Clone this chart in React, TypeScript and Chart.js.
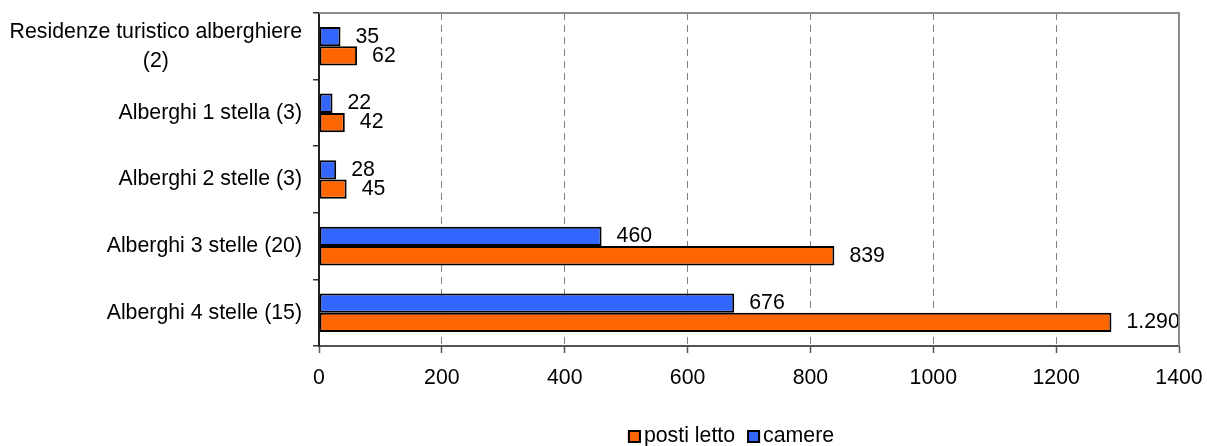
import React, { useEffect, useRef } from "react";
import { Chart, registerables } from "chart.js";

Chart.register(...registerables);

const categories: string[][] = [
  ["Residenze turistico alberghiere", "(2)"],
  ["Alberghi 1 stella (3)"],
  ["Alberghi 2 stelle (3)"],
  ["Alberghi 3 stelle (20)"],
  ["Alberghi 4 stelle (15)"],
];
const camere = [35, 22, 28, 460, 676];
const postiLetto = [62, 42, 45, 839, 1290];
const seriesNames = ["camere", "posti letto"];
const seriesColors = ["#3366FF", "#FF6600"];
const xMin = 0;
const xMax = 1400;
const xStep = 200;

const FONT_SIZE = 21.3;
const FONT_FAMILY = "'Liberation Sans', Arial, sans-serif";
const FONT = `${FONT_SIZE}px ${FONT_FAMILY}`;

function fmt(v: number): string {
  return String(Math.round(v)).replace(/\B(?=(\d{3})+(?!\d))/g, ".");
}

const customPlugin = {
  id: "custom",
  afterDatasetsDraw(chart: any) {
    const ctx = chart.ctx;
    ctx.save();
    ctx.font = FONT;
    ctx.fillStyle = "#000";
    ctx.textAlign = "left";
    ctx.textBaseline = "middle";
    chart.data.datasets.forEach((ds: any, di: number) => {
      const meta = chart.getDatasetMeta(di);
      meta.data.forEach((bar: any, i: number) => {
        ctx.fillText(fmt(ds.data[i]), bar.x + 15, bar.y);
      });
    });
    ctx.restore();
  },
  afterDraw(chart: any) {
    const ctx = chart.ctx;
    const { left, right, top, bottom } = chart.chartArea;
    ctx.save();
    // top & right frame
    ctx.strokeStyle = "#8c8c8c";
    ctx.lineWidth = 2;
    ctx.beginPath();
    ctx.moveTo(left, top);
    ctx.lineTo(right, top);
    ctx.lineTo(right, bottom);
    ctx.stroke();

    // category labels
    const y = chart.scales.y;
    ctx.font = FONT;
    ctx.fillStyle = "#000";
    ctx.textBaseline = "middle";
    const rightX = left - 17;
    categories.forEach((lines, i) => {
      const cy = y.getPixelForTick(i);
      if (lines.length === 1) {
        ctx.textAlign = "right";
        ctx.fillText(lines[0], rightX, cy);
      } else {
        const w = ctx.measureText(lines[0]).width;
        const cx = rightX - w / 2;
        const gap = 29;
        const startY = cy - (gap * (lines.length - 1)) / 2;
        ctx.textAlign = "center";
        lines.forEach((ln, k) => ctx.fillText(ln, cx, startY + k * gap));
      }
    });

    // legend (posti letto first, then camere)
    const order = [1, 0];
    const box = 13;
    const parts = order.map((k) => ({
      name: seriesNames[k],
      color: seriesColors[k],
      w: ctx.measureText(seriesNames[k]).width,
    }));
    const total =
      parts.reduce((s, p) => s + box + 3 + p.w, 0) + 12 * (parts.length - 1);
    let x = 731 - total / 2;
    const ly = 436.5;
    ctx.textAlign = "left";
    parts.forEach((p) => {
      ctx.fillStyle = p.color;
      ctx.fillRect(x, ly - box / 2, box, box);
      ctx.strokeStyle = "#000";
      ctx.lineWidth = 2;
      ctx.strokeRect(x + 1, ly - box / 2 + 1, box - 2, box - 2);
      ctx.fillStyle = "#000";
      ctx.fillText(p.name, x + box + 3, ly);
      x += box + 3 + p.w + 12;
    });
    ctx.restore();
  },
};

export default function App() {
  const ref = useRef<HTMLCanvasElement>(null);
  useEffect(() => {
    if (!ref.current) return;
    const chart = new Chart(ref.current, {
      type: "bar",
      data: {
        labels: categories.map((c) => c.join(" ")),
        datasets: [
          {
            label: seriesNames[0],
            data: camere,
            backgroundColor: seriesColors[0],
            borderColor: "#000",
            borderWidth: 2,
            borderSkipped: false,
          },
          {
            label: seriesNames[1],
            data: postiLetto,
            backgroundColor: seriesColors[1],
            borderColor: "#000",
            borderWidth: 2,
            borderSkipped: false,
          },
        ],
      },
      options: {
        indexAxis: "y",
        responsive: false,
        animation: false,
        layout: { padding: { top: 13, right: 28, left: 0, bottom: 0 } },
        datasets: {
          bar: { categoryPercentage: 0.58, barPercentage: 1 },
        },
        plugins: {
          legend: { display: false },
          tooltip: { enabled: false },
        },
        scales: {
          x: {
            type: "linear",
            min: xMin,
            max: xMax,
            ticks: {
              stepSize: xStep,
              color: "#000",
              font: { family: FONT_FAMILY, size: FONT_SIZE },
              padding: 12,
              callback: (v: any) => String(v),
            },
            grid: {
              color: (c: any) =>
                c.tick && (c.tick.value === xMin || c.tick.value === xMax)
                  ? "rgba(0,0,0,0)"
                  : "#808080",
              lineWidth: 1,
              drawTicks: true,
              tickLength: 7,
              tickColor: "#555",
              tickWidth: 1.5,
              tickBorderDash: [],
            },
            border: { display: true, color: "#555", width: 2, dash: [7, 5] },
            afterFit: (s: any) => {
              s.height = 100;
              s.paddingLeft = 0;
              s.paddingRight = 0;
            },
          },
          y: {
            type: "category",
            ticks: { display: false },
            grid: {
              offset: true,
              drawOnChartArea: false,
              drawTicks: true,
              tickLength: 6,
              color: "#333",
              lineWidth: 1.5,
            },
            border: { display: true, color: "#222", width: 2 },
            afterFit: (s: any) => {
              s.width = 319;
              s.paddingTop = 0;
              s.paddingBottom = 0;
            },
          },
        },
      },
      plugins: [customPlugin],
    } as any);
    return () => chart.destroy();
  }, []);
  return (
    <div
      style={{
        position: "fixed",
        left: 0,
        top: 0,
        width: 1207,
        height: 446,
        background: "#fff",
      }}
    >
      <canvas ref={ref} width={1207} height={446} />
    </div>
  );
}
